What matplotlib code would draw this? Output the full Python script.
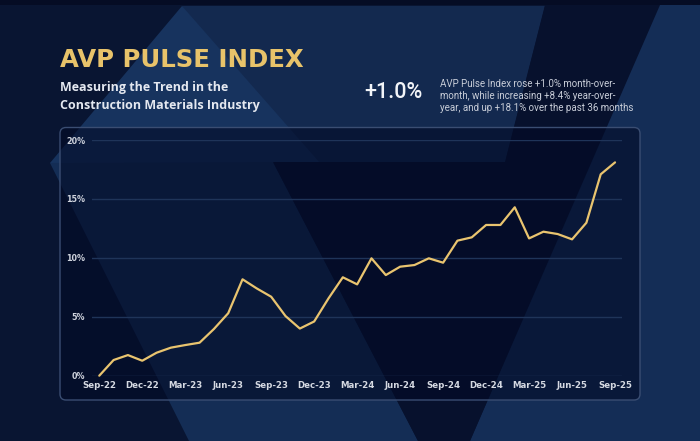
import matplotlib
matplotlib.use("Agg")
import matplotlib.pyplot as plt
from matplotlib.patches import Polygon, FancyBboxPatch, Rectangle

# ---------------- data ----------------
months = ["Sep-22", "Oct-22", "Nov-22", "Dec-22", "Jan-23", "Feb-23", "Mar-23", "Apr-23",
          "May-23", "Jun-23", "Jul-23", "Aug-23", "Sep-23", "Oct-23", "Nov-23", "Dec-23",
          "Jan-24", "Feb-24", "Mar-24", "Apr-24", "May-24", "Jun-24", "Jul-24", "Aug-24",
          "Sep-24", "Oct-24", "Nov-24", "Dec-24", "Jan-25", "Feb-25", "Mar-25", "Apr-25",
          "May-25", "Jun-25", "Jul-25", "Aug-25", "Sep-25"]
pulse_index = [0.0, 1.33, 1.75, 1.27, 1.95, 2.38, 2.6, 2.8, 3.96, 5.3, 8.18, 7.4, 6.7,
               5.06, 4.0, 4.6, 6.56, 8.35, 7.75, 9.96, 8.54, 9.25, 9.39, 9.96, 9.59,
               11.46, 11.74, 12.79, 12.79, 14.29, 11.65, 12.22, 12.02, 11.57, 12.98,
               17.09, 18.1]
y_ticks = [0, 5, 10, 15, 20]
y_tick_labels = ["0%", "5%", "10%", "15%", "20%"]
x_tick_step = 3

title = "AVP PULSE INDEX"
subtitle = "Measuring the Trend in the\nConstruction Materials Industry"
headline = "+1.0%"
blurb = ("AVP Pulse Index rose +1.0% month-over-\n"
         "month, while increasing +8.4% year-over-\n"
         "year, and up +18.1% over the past 36 months")

W, H = 700, 441
fig = plt.figure(figsize=(W / 100, H / 100), dpi=100)
fig.patch.set_facecolor("#0a1739")

def fx(x):
    return x / W

def fy(y):
    return 1 - y / H

# ---------------- decorative background ----------------
bg = fig.add_axes([0, 0, 1, 1])
bg.set_xlim(0, W)
bg.set_ylim(H, 0)
bg.axis("off")
bg.add_patch(Rectangle((0, 0), W, H, color="#091532", zorder=0))
# medium region right of the A
bg.add_patch(Polygon([(182, 6), (545, 6), (505, 163), (273, 163)], closed=True,
                     color="#13294f", lw=0, zorder=1))
# A triangle + diagonal band
bg.add_patch(Polygon([(182, 6), (50, 163), (320, 163)], closed=True,
                     color="#17335e", lw=0, zorder=2))
bg.add_patch(Polygon([(50, 163), (273, 162), (418, 441), (189, 441)], closed=True,
                     color="#142d55", lw=0, zorder=2))
# right lighter region
bg.add_patch(Polygon([(660, 0), (700, 0), (700, 441), (470, 441)], closed=True,
                     color="#142d56", lw=0, zorder=2))
# dark V interior + stripe
bg.add_patch(Polygon([(273, 162), (505, 162), (545, 5), (660, 5), (470, 441), (418, 441)],
                     closed=True, color="#07112d", lw=0, zorder=3))
# top dark strip
bg.add_patch(Rectangle((0, 0), W, 5, color="#050c24", lw=0, zorder=4))

# panel
panel = FancyBboxPatch((60, 127.5), 580, 272.5, boxstyle="round,pad=0,rounding_size=6",
                       facecolor="#020a26", alpha=0.6, edgecolor="none", zorder=5)
bg.add_patch(panel)
bg.add_patch(FancyBboxPatch((60, 127.5), 580, 272.5, boxstyle="round,pad=0,rounding_size=6",
                            facecolor="none", edgecolor="#3a4d72", lw=1.0, zorder=6))

# ---------------- texts ----------------
fig.text(fx(60), fy(66.7), title, color="#e8c36a", fontsize=17.6,
         fontweight="bold", family="DejaVu Sans", va="baseline", ha="left")
fig.text(fx(60.5), fy(96), subtitle, color="#e4e8f0", fontsize=9.0,
         fontweight="bold", family="Open Sans", va="center", ha="left", linespacing=1.5)
fig.text(fx(364), fy(92), headline, color="#f2f4f8", fontsize=15.5,
         fontweight="medium", family="Roboto", va="center", ha="left")
fig.text(fx(440), fy(96), blurb, color="#c8cdd8", fontsize=7.0,
         family="Roboto", va="center", ha="left", linespacing=1.25)

# ---------------- chart ----------------
ax = fig.add_axes([fx(92.1), fy(375.7), (622.2 - 92.1) / W, (375.7 - 140) / H])
ax.set_facecolor("none")
x = list(range(len(months)))
ax.plot(x, pulse_index, color="#e9c46f", lw=1.6, clip_on=False, zorder=3,
        solid_joinstyle="round", solid_capstyle="round")
ax.set_xlim(-0.5, len(months) - 0.5)
ax.set_ylim(0, 20)
ax.set_yticks(y_ticks)
ax.set_yticklabels(y_tick_labels)
ax.set_xticks(x[::x_tick_step])
ax.set_xticklabels(months[::x_tick_step])
ax.yaxis.grid(True, color="#1f3459", lw=1.0)
ax.set_axisbelow(True)
for s in ax.spines.values():
    s.set_visible(False)
ax.tick_params(axis="both", length=0)
ax.tick_params(axis="y", pad=5, labelsize=5.8, labelcolor="#cfd3dd")
ax.tick_params(axis="x", pad=4.0, labelsize=6.2, labelcolor="#d5d9e2")
for lab in ax.get_xticklabels() + ax.get_yticklabels():
    lab.set_fontweight("bold")
    lab.set_family("DejaVu Sans")

fig.savefig("out.png", dpi=100, facecolor=fig.get_facecolor())
